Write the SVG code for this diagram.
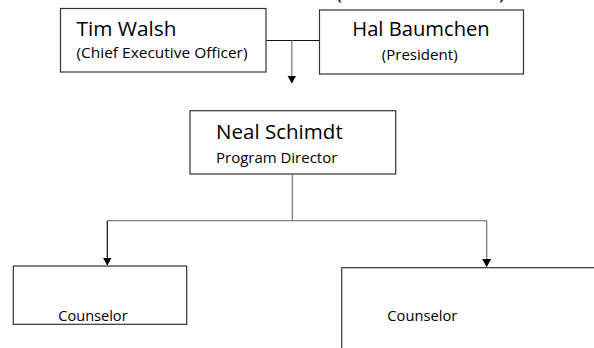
<svg xmlns="http://www.w3.org/2000/svg" width="594" height="348" viewBox="0 0 594 348">
<style>
.box{fill:#fff;stroke:#333;stroke-width:1.2}
.t{font-family:"Open Sans","Liberation Sans",sans-serif;fill:#000}
.big{font-size:20px}
.small{font-size:14.5px}
.dark{fill:none;stroke:#111;stroke-width:1.2}
.gray{fill:none;stroke:#808080;stroke-width:1.3}
</style>
<defs>
<marker id="a2" markerWidth="9" markerHeight="8" refX="4.5" refY="7.5" orient="0" markerUnits="userSpaceOnUse" viewBox="0 0 9 8">
<path d="M0,0 L9,0 L4.5,8 Z" fill="#000"/>
</marker>
</defs>
<g id="partial-top">
<text class="t big" x="336" y="-1">(</text>
<text class="t big" x="499" y="-1">)</text>
</g>
<g id="connectors">
<line class="dark" x1="266" y1="40.5" x2="319.5" y2="40.5"/>
<line class="gray" x1="291.8" y1="40.5" x2="291.8" y2="83" marker-end="url(#a2)"/>
<line class="gray" x1="292.3" y1="174" x2="292.3" y2="220.7"/>
<line class="gray" x1="107.3" y1="220.7" x2="486.7" y2="220.7"/>
<line class="dark" x1="107.3" y1="220.7" x2="107.3" y2="265" marker-end="url(#a2)"/>
<line class="gray" x1="486.7" y1="220.7" x2="486.7" y2="266.5" marker-end="url(#a2)"/>
</g>
<g id="tim">
<rect class="box" x="60.5" y="8.5" width="205.5" height="63.5"/>
<text class="t big" x="76.5" y="36" textLength="100" lengthAdjust="spacingAndGlyphs">Tim Walsh</text>
<text class="t small" x="76.5" y="58" textLength="171" lengthAdjust="spacingAndGlyphs">(Chief Executive Officer)</text>
</g>
<g id="hal">
<rect class="box" x="319.5" y="10" width="204" height="64"/>
<text class="t big" x="421" y="36" text-anchor="middle" textLength="137.5" lengthAdjust="spacingAndGlyphs">Hal Baumchen</text>
<text class="t small" x="419.7" y="60" text-anchor="middle" textLength="76" lengthAdjust="spacingAndGlyphs">(President)</text>
</g>
<g id="neal">
<rect class="box" x="190" y="110.7" width="205.7" height="63.3"/>
<text class="t big" x="216" y="139" textLength="126.7" lengthAdjust="spacingAndGlyphs">Neal Schimdt</text>
<text class="t small" x="216" y="162.7" textLength="121.3" lengthAdjust="spacingAndGlyphs">Program Director</text>
</g>
<g id="counselor1">
<rect class="box" x="13.3" y="266" width="173.4" height="58.3"/>
<text class="t small" x="58.3" y="320.7" textLength="69.3" lengthAdjust="spacingAndGlyphs">Counselor</text>
</g>
<g id="counselor2">
<rect class="box" x="341.7" y="267.7" width="270" height="100"/>
<text class="t small" x="387.3" y="321" textLength="70" lengthAdjust="spacingAndGlyphs">Counselor</text>
</g>
</svg>
